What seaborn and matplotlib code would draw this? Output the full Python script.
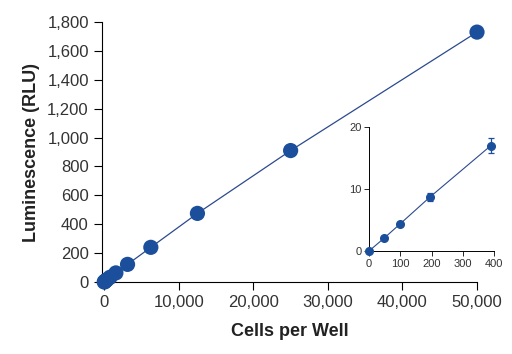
import numpy as np
import pandas as pd
import seaborn as sns
import matplotlib.pyplot as plt
from matplotlib.ticker import FuncFormatter

# cells per well (twofold dilutions) and luminescence
cells = [0, 49, 98, 195, 390, 781, 1563, 3125, 6250, 12500, 25000, 50000]
rlu = [0, 2.1, 4.3, 8.7, 17.0, 33, 63, 122, 240, 475, 910, 1730]

# inset: low cell numbers with error bars
inset_cells = [0, 49, 98, 195, 390]
inset_rlu = [0, 2.1, 4.3, 8.7, 17.0]
inset_err = [0.1, 0.2, 0.3, 0.7, 1.2]

main_ticks_x = [0, 10000, 20000, 30000, 40000, 50000]
main_ticks_y = [0, 200, 400, 600, 800, 1000, 1200, 1400, 1600, 1800]

blue = '#1b4f9c'
line_blue = '#2b4a8e'
grey = '#333333'

sns.set_theme(style='ticks')
plt.rcParams['font.family'] = ['Liberation Sans', 'DejaVu Sans']

df = pd.DataFrame({'cells': cells, 'rlu': rlu})
dfi = pd.DataFrame({'cells': inset_cells, 'rlu': inset_rlu})

fig = plt.figure(figsize=(5.12, 3.54), dpi=100)
ax = fig.add_axes([102 / 512, 1 - 282 / 354, 375 / 512, 260 / 354])

sns.lineplot(data=df, x='cells', y='rlu', ax=ax, color=line_blue, linewidth=0.9)
sns.scatterplot(data=df, x='cells', y='rlu', ax=ax, color=blue, s=120,
                edgecolor='none', clip_on=False, zorder=3)

ax.set_xlim(-300, 50000)
ax.set_ylim(0, 1800)
ax.set_xticks(main_ticks_x)
ax.set_yticks(main_ticks_y)
ax.xaxis.set_major_formatter(FuncFormatter(lambda v, p: f'{int(v):,}'))
ax.yaxis.set_major_formatter(FuncFormatter(lambda v, p: f'{int(v):,}'))
ax.tick_params(axis='both', labelsize=12, colors='black', labelcolor=grey,
               length=6, width=0.8, direction='out')
for s in ['left', 'bottom']:
    ax.spines[s].set_linewidth(0.8)
    ax.spines[s].set_color('black')
sns.despine(ax=ax)

label_font = dict(family=['Liberation Sans Narrow', 'Liberation Sans', 'DejaVu Sans'],
                  weight='bold', size=13, color='#222222')
ax.set_xlabel('Cells per Well', labelpad=9, **label_font)
ax.set_ylabel('Luminescence (RLU)', labelpad=5, **label_font)

# inset
axi = fig.add_axes([369 / 512, 1 - 251 / 354, 125 / 512, 124 / 354])
sns.lineplot(data=dfi, x='cells', y='rlu', ax=axi, color=line_blue, linewidth=0.8)
axi.errorbar(inset_cells, inset_rlu, yerr=inset_err, fmt='o', color=blue,
             markersize=5.5, elinewidth=0.9, capsize=2.5, capthick=0.9,
             clip_on=False, zorder=3)
axi.set_xlim(0, 400)
axi.set_ylim(0, 20)
axi.set_xticks([0, 100, 200, 300, 400])
axi.set_yticks([0, 10, 20])
axi.tick_params(axis='both', labelsize=8, labelcolor=grey, length=3.5,
                width=0.7, pad=2)
axi.set_xlabel('')
axi.set_ylabel('')
axi.patch.set_alpha(0)
for s in ['left', 'bottom']:
    axi.spines[s].set_linewidth(0.7)
    axi.spines[s].set_color('black')
sns.despine(ax=axi)

fig.savefig('out.png', dpi=100)
